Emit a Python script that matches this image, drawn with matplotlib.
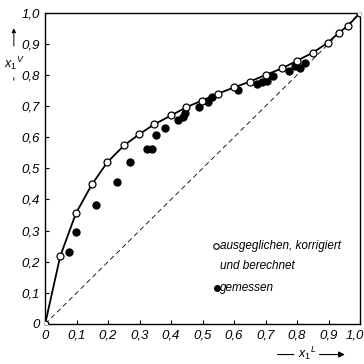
import matplotlib
matplotlib.use("Agg")
import matplotlib.pyplot as plt
from matplotlib.patches import FancyArrowPatch
from matplotlib.transforms import ScaledTranslation

# open circles: "ausgeglichen, korrigiert und berechnet"
calc_x = [0.0, 0.048, 0.098, 0.149, 0.197, 0.251, 0.298, 0.346, 0.40, 0.448, 0.498,
          0.549, 0.60, 0.651, 0.702, 0.752, 0.80, 0.851, 0.898, 0.933, 0.962, 1.0]
calc_y = [0.0, 0.218, 0.356, 0.449, 0.519, 0.574, 0.609, 0.641, 0.670, 0.696, 0.718,
          0.740, 0.760, 0.779, 0.801, 0.821, 0.846, 0.872, 0.904, 0.936, 0.958, 1.0]

# filled dots: "gemessen"
meas_x = [0.076, 0.098, 0.162, 0.229, 0.27, 0.325, 0.34, 0.352, 0.381, 0.422, 0.438,
          0.445, 0.489, 0.517, 0.53, 0.613, 0.673, 0.69, 0.705, 0.724, 0.775, 0.794,
          0.81, 0.825]
meas_y = [0.231, 0.295, 0.381, 0.455, 0.522, 0.562, 0.562, 0.606, 0.631, 0.654, 0.666,
          0.678, 0.696, 0.712, 0.728, 0.753, 0.772, 0.776, 0.782, 0.798, 0.814, 0.83,
          0.824, 0.837]

ticks = [0.0, 0.1, 0.2, 0.3, 0.4, 0.5, 0.6, 0.7, 0.8, 0.9, 1.0]
tick_labels = ["0", "0,1", "0,2", "0,3", "0,4", "0,5", "0,6", "0,7", "0,8", "0,9", "1,0"]

plt.rcParams["font.family"] = ["Liberation Sans", "DejaVu Sans"]
plt.rcParams["mathtext.fontset"] = "custom"
plt.rcParams["mathtext.it"] = "Liberation Sans:italic"
plt.rcParams["mathtext.rm"] = "Liberation Sans"

fig = plt.figure(figsize=(3.64, 3.64), dpi=100)
ax = fig.add_axes([0.124, 0.110, 0.865, 0.855])

ax.plot([0, 1], [0, 1], color="black", lw=0.6, ls=(0, (6, 4)))
ax.plot(calc_x, calc_y, color="black", lw=1.3, marker="o", ms=5,
        mfc="white", mec="black", mew=0.9, zorder=4)
ax.plot(meas_x, meas_y, ls="none", marker="o", ms=5, color="black", zorder=3)

ax.set_xlim(0, 1)
ax.set_ylim(0, 1)
ax.set_xticks(ticks)
ax.set_yticks(ticks)
ax.set_xticklabels(tick_labels, fontsize=9.5, style="italic")
ax.set_yticklabels(tick_labels, fontsize=9.5, style="italic")
ax.tick_params(direction="in", length=3, width=0.8, pad=4)
last = ax.get_xticklabels()[-1]
last.set_transform(last.get_transform() + ScaledTranslation(-0.05, 0, fig.dpi_scale_trans))
for s in ax.spines.values():
    s.set_linewidth(1.0)
    s.set_color("black")

# legend as text
ax.plot([0.543], [0.25], marker="o", ms=4, mfc="white", mec="black", mew=0.8,
        clip_on=False)
ax.text(0.556, 0.25, "ausgeglichen, korrigiert", fontsize=8.5, style="italic",
        va="center", ha="left")
ax.text(0.556, 0.185, "und berechnet", fontsize=8.5, style="italic",
        va="center", ha="left")
ax.plot([0.545], [0.116], marker="o", ms=4, color="black", clip_on=False)
ax.text(0.556, 0.116, "gemessen", fontsize=8.5, style="italic", va="center", ha="left")

# y label with arrow
fig.text(0.038, 0.827, r"$x_1{}^{V}$", fontsize=9, ha="center", va="center")
fig.add_artist(FancyArrowPatch((0.038, 0.866), (0.038, 0.93),
               transform=fig.transFigure, arrowstyle="-|>", mutation_scale=6,
               color="black", lw=0.7))
fig.add_artist(FancyArrowPatch((0.038, 0.794), (0.038, 0.772),
               transform=fig.transFigure, arrowstyle="-", color="black", lw=0.7))
# x label with arrow
fig.text(0.843, 0.03, r"$x_1{}^{L}$", fontsize=9, ha="center", va="center")
fig.add_artist(FancyArrowPatch((0.755, 0.026), (0.815, 0.026),
               transform=fig.transFigure, arrowstyle="-", color="black", lw=0.8))
fig.add_artist(FancyArrowPatch((0.87, 0.026), (0.955, 0.026),
               transform=fig.transFigure, arrowstyle="-|>", mutation_scale=9,
               color="black", lw=0.8))

fig.savefig("out.png", dpi=100)
